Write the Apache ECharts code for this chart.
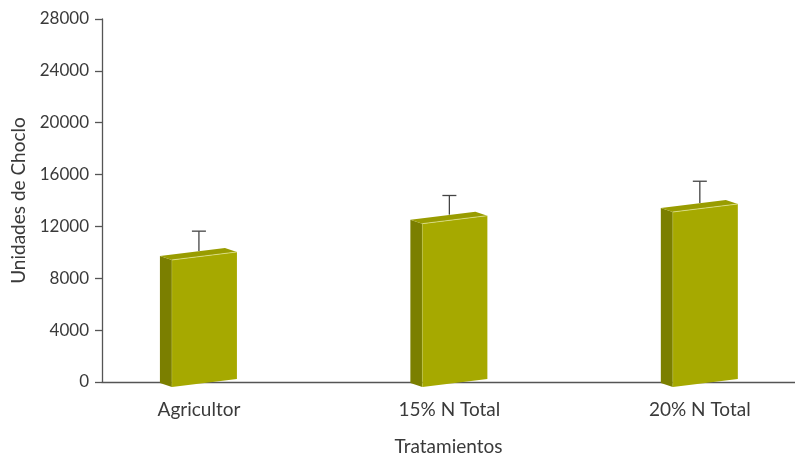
<!DOCTYPE html>
<html>
<head>
<meta charset="utf-8">
<script src="https://cdn.jsdelivr.net/npm/echarts@6/dist/echarts.min.js"></script>
<style>
html,body{margin:0;padding:0;background:#fff;}
#chart{width:795px;height:459px;}
</style>
</head>
<body>
<div id="chart"></div>
<script>
var categories = ['Agricultor', '15% N Total', '20% N Total'];
var values = [9800, 12600, 13500];
var errors = [1450, 1400, 1600];
var yTicks = [0, 4000, 8000, 12000, 16000, 20000, 24000, 28000];

var chart = echarts.init(document.getElementById('chart'), null, {renderer: 'canvas'});
var textColor = '#3a3a3a';
var font = 'Lato, "Open Sans", sans-serif';

var seriesData = categories.map(function (c, i) {
  return [i, values[i], values[i] + errors[i]];
});

function renderItem(params, api) {
  var x = api.value(0), v = api.value(1), e = api.value(2);
  var base = api.coord([x, 0]);
  var top = api.coord([x, v]);
  var et = api.coord([x, e]);
  var cx = base[0], y0 = base[1];
  var h = y0 - top[1];
  var he = y0 - et[1];
  var side = [[cx - 39, y0 + 1 - h], [cx - 27, y0 + 5 - h], [cx - 27, y0 + 5], [cx - 39, y0 + 1]];
  var front = [[cx - 27, y0 + 5 - h], [cx + 38, y0 - 3 - h], [cx + 38, y0 - 3], [cx - 27, y0 + 5]];
  var topFace = [[cx - 39, y0 + 1 - h], [cx + 26, y0 - 7 - h], [cx + 38, y0 - 3 - h], [cx - 27, y0 + 5 - h]];
  var eBase = y0 - 4 - h;
  var eTop = y0 - 5 - he;
  return {
    type: 'group',
    children: [
      {type: 'line', shape: {x1: cx, y1: eBase, x2: cx, y2: eTop}, style: {stroke: '#444', lineWidth: 1.3}},
      {type: 'line', shape: {x1: cx - 7, y1: eTop, x2: cx + 7, y2: eTop}, style: {stroke: '#444', lineWidth: 1.3}},
      {type: 'polygon', shape: {points: side}, style: {fill: '#7b7f00'}},
      {type: 'polygon', shape: {points: topFace}, style: {fill: '#999c00'}},
      {type: 'polygon', shape: {points: front}, style: {fill: '#a6a900'}},
      {type: 'line', shape: {x1: cx - 27, y1: y0 + 5 - h, x2: cx + 38, y2: y0 - 3 - h}, style: {stroke: 'rgba(235,238,170,0.8)', lineWidth: 0.8}},
      {type: 'line', shape: {x1: cx - 27, y1: y0 + 5 - h, x2: cx - 27, y2: y0 + 5}, style: {stroke: 'rgba(200,205,90,0.6)', lineWidth: 0.6}}
    ]
  };
}

chart.setOption({
  animation: false,
  backgroundColor: '#fff',
  grid: {left: 102, right: 0, top: 19, bottom: 77, outerBoundsMode: 'none', containLabel: false},
  xAxis: {
    type: 'value',
    min: -0.387,
    max: 2.38,
    name: 'Tratamientos',
    nameLocation: 'middle',
    nameGap: 55,
    nameTextStyle: {color: textColor, fontSize: 19, fontFamily: font},
    axisLine: {show: true, onZero: false, lineStyle: {color: '#555', width: 1.3}},
    axisTick: {show: false},
    splitLine: {show: false},
    axisLabel: {
      customValues: [0, 1, 2],
      formatter: function (v) { return categories[Math.round(v)]; },
      color: textColor, fontSize: 19, fontFamily: font, margin: 18
    }
  },
  yAxis: {
    type: 'value',
    min: 0,
    max: 28000,
    interval: 4000,
    name: 'Unidades de Choclo',
    nameLocation: 'middle',
    nameRotate: 90,
    nameGap: 74,
    nameTextStyle: {color: textColor, fontSize: 19, fontFamily: font},
    axisLine: {show: true, onZero: false, lineStyle: {color: '#555', width: 1.3}},
    axisTick: {show: true, length: 7, lineStyle: {color: '#555', width: 1.3}},
    splitLine: {show: false},
    axisLabel: {
      color: textColor, fontSize: 17, fontFamily: font, margin: 13,
      formatter: function (v) { return yTicks.indexOf(v) >= 0 ? String(v) : ''; }
    }
  },
  series: [{
    type: 'custom',
    renderItem: renderItem,
    data: seriesData,
    encode: {x: 0, y: [1, 2]},
    clip: false
  }]
});
</script>
</body>
</html>
